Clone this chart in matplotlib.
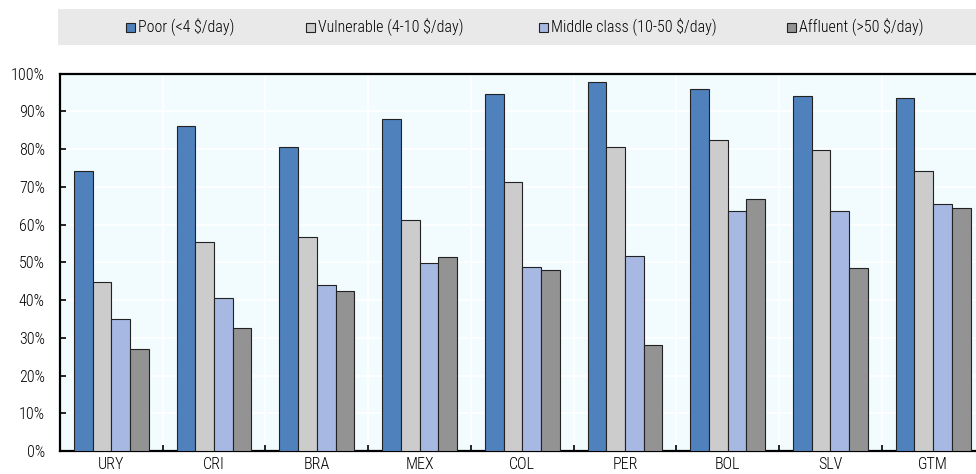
import matplotlib
matplotlib.use("Agg")
import matplotlib.pyplot as plt
from matplotlib.patches import Rectangle
import numpy as np

countries = ["URY", "CRI", "BRA", "MEX", "COL", "PER", "BOL", "SLV", "GTM"]
series_names = ["Poor (<4 $/day)", "Vulnerable (4-10 $/day)",
                "Middle class (10-50 $/day)", "Affluent (>50 $/day)"]
poor = [74.1, 86.0, 80.5, 87.9, 94.7, 97.8, 95.8, 94.1, 93.5]
vulnerable = [44.8, 55.4, 56.7, 61.3, 71.2, 80.6, 82.4, 79.8, 74.3]
middle = [34.9, 40.4, 44.0, 49.8, 48.8, 51.6, 63.6, 63.6, 65.4]
affluent = [27.0, 32.5, 42.4, 51.5, 48.0, 28.1, 66.7, 48.5, 64.5]
yticks = [0, 10, 20, 30, 40, 50, 60, 70, 80, 90, 100]

colors = ["#4F81BD", "#CCCCCC", "#A7B9E3", "#939393"]
font = ["Roboto Condensed", "Archivo Narrow", "DejaVu Sans"]
plt.rcParams["font.family"] = font
plt.rcParams["font.size"] = 11.5
plt.rcParams["font.weight"] = "light"

W, H = 976, 474
fig = plt.figure(figsize=(W / 100, H / 100), dpi=100)

def fx(px):
    return px / W

def fy(py):
    return 1 - py / H

ax_left, ax_right, ax_top, ax_bottom = 60, 984.5, 73.5, 451
ax = fig.add_axes([fx(ax_left), fy(ax_bottom), fx(ax_right - ax_left),
                   (ax_bottom - ax_top) / H])
ax.set_facecolor("#F2FCFF")

data = [poor, vulnerable, middle, affluent]
x = np.arange(len(countries))
bw = 0.182
for i, (vals, c) in enumerate(zip(data, colors)):
    ax.bar(x + (i - 1.5) * bw, vals, width=bw, color=c, edgecolor="#222222",
           linewidth=0.8, zorder=3)

ax.set_xlim(-0.5, len(countries) - 0.5)
ax.set_ylim(0, 100)
ax.set_yticks(yticks)
ax.set_yticklabels([f"{v}%" for v in yticks])
ax.set_xticks(x)
ax.set_xticklabels(countries)
ax.set_xticks(np.arange(len(countries) + 1) - 0.5, minor=True)

ax.tick_params(axis="x", which="major", length=0, pad=4, labelsize=11.5)
ax.tick_params(axis="x", which="minor", length=4, direction="in", width=1.2,
               color="black")
ax.tick_params(axis="y", which="major", length=4, direction="in", width=1.2,
               pad=11, labelsize=11.5)

ax.grid(axis="y", which="major", color="white", linewidth=1.2, zorder=0)
ax.grid(axis="x", which="minor", color="white", linewidth=1.2, zorder=0)
ax.set_axisbelow(True)

for s in ["left", "bottom", "top"]:
    ax.spines[s].set_color("black")
    ax.spines[s].set_linewidth(1.6)
ax.spines["right"].set_visible(False)

# legend band
fig.patches.append(Rectangle((fx(58), fy(45)), fx(976 - 58) + 0.01,
                             (45 - 9) / H, transform=fig.transFigure,
                             facecolor="#E9E9E9", edgecolor="none", zorder=0))
marker_x = [126, 306, 539, 787]
for name, c, mx in zip(series_names, colors, marker_x):
    fig.patches.append(Rectangle((fx(mx), fy(32)), fx(9), 9 / H,
                                 transform=fig.transFigure, facecolor=c,
                                 edgecolor="#222222", linewidth=0.8, zorder=2))
    fig.text(fx(mx + 12), fy(27.5), name, ha="left", va="center",
             fontsize=11.5, color="black")

fig.savefig("out.png", dpi=100)
